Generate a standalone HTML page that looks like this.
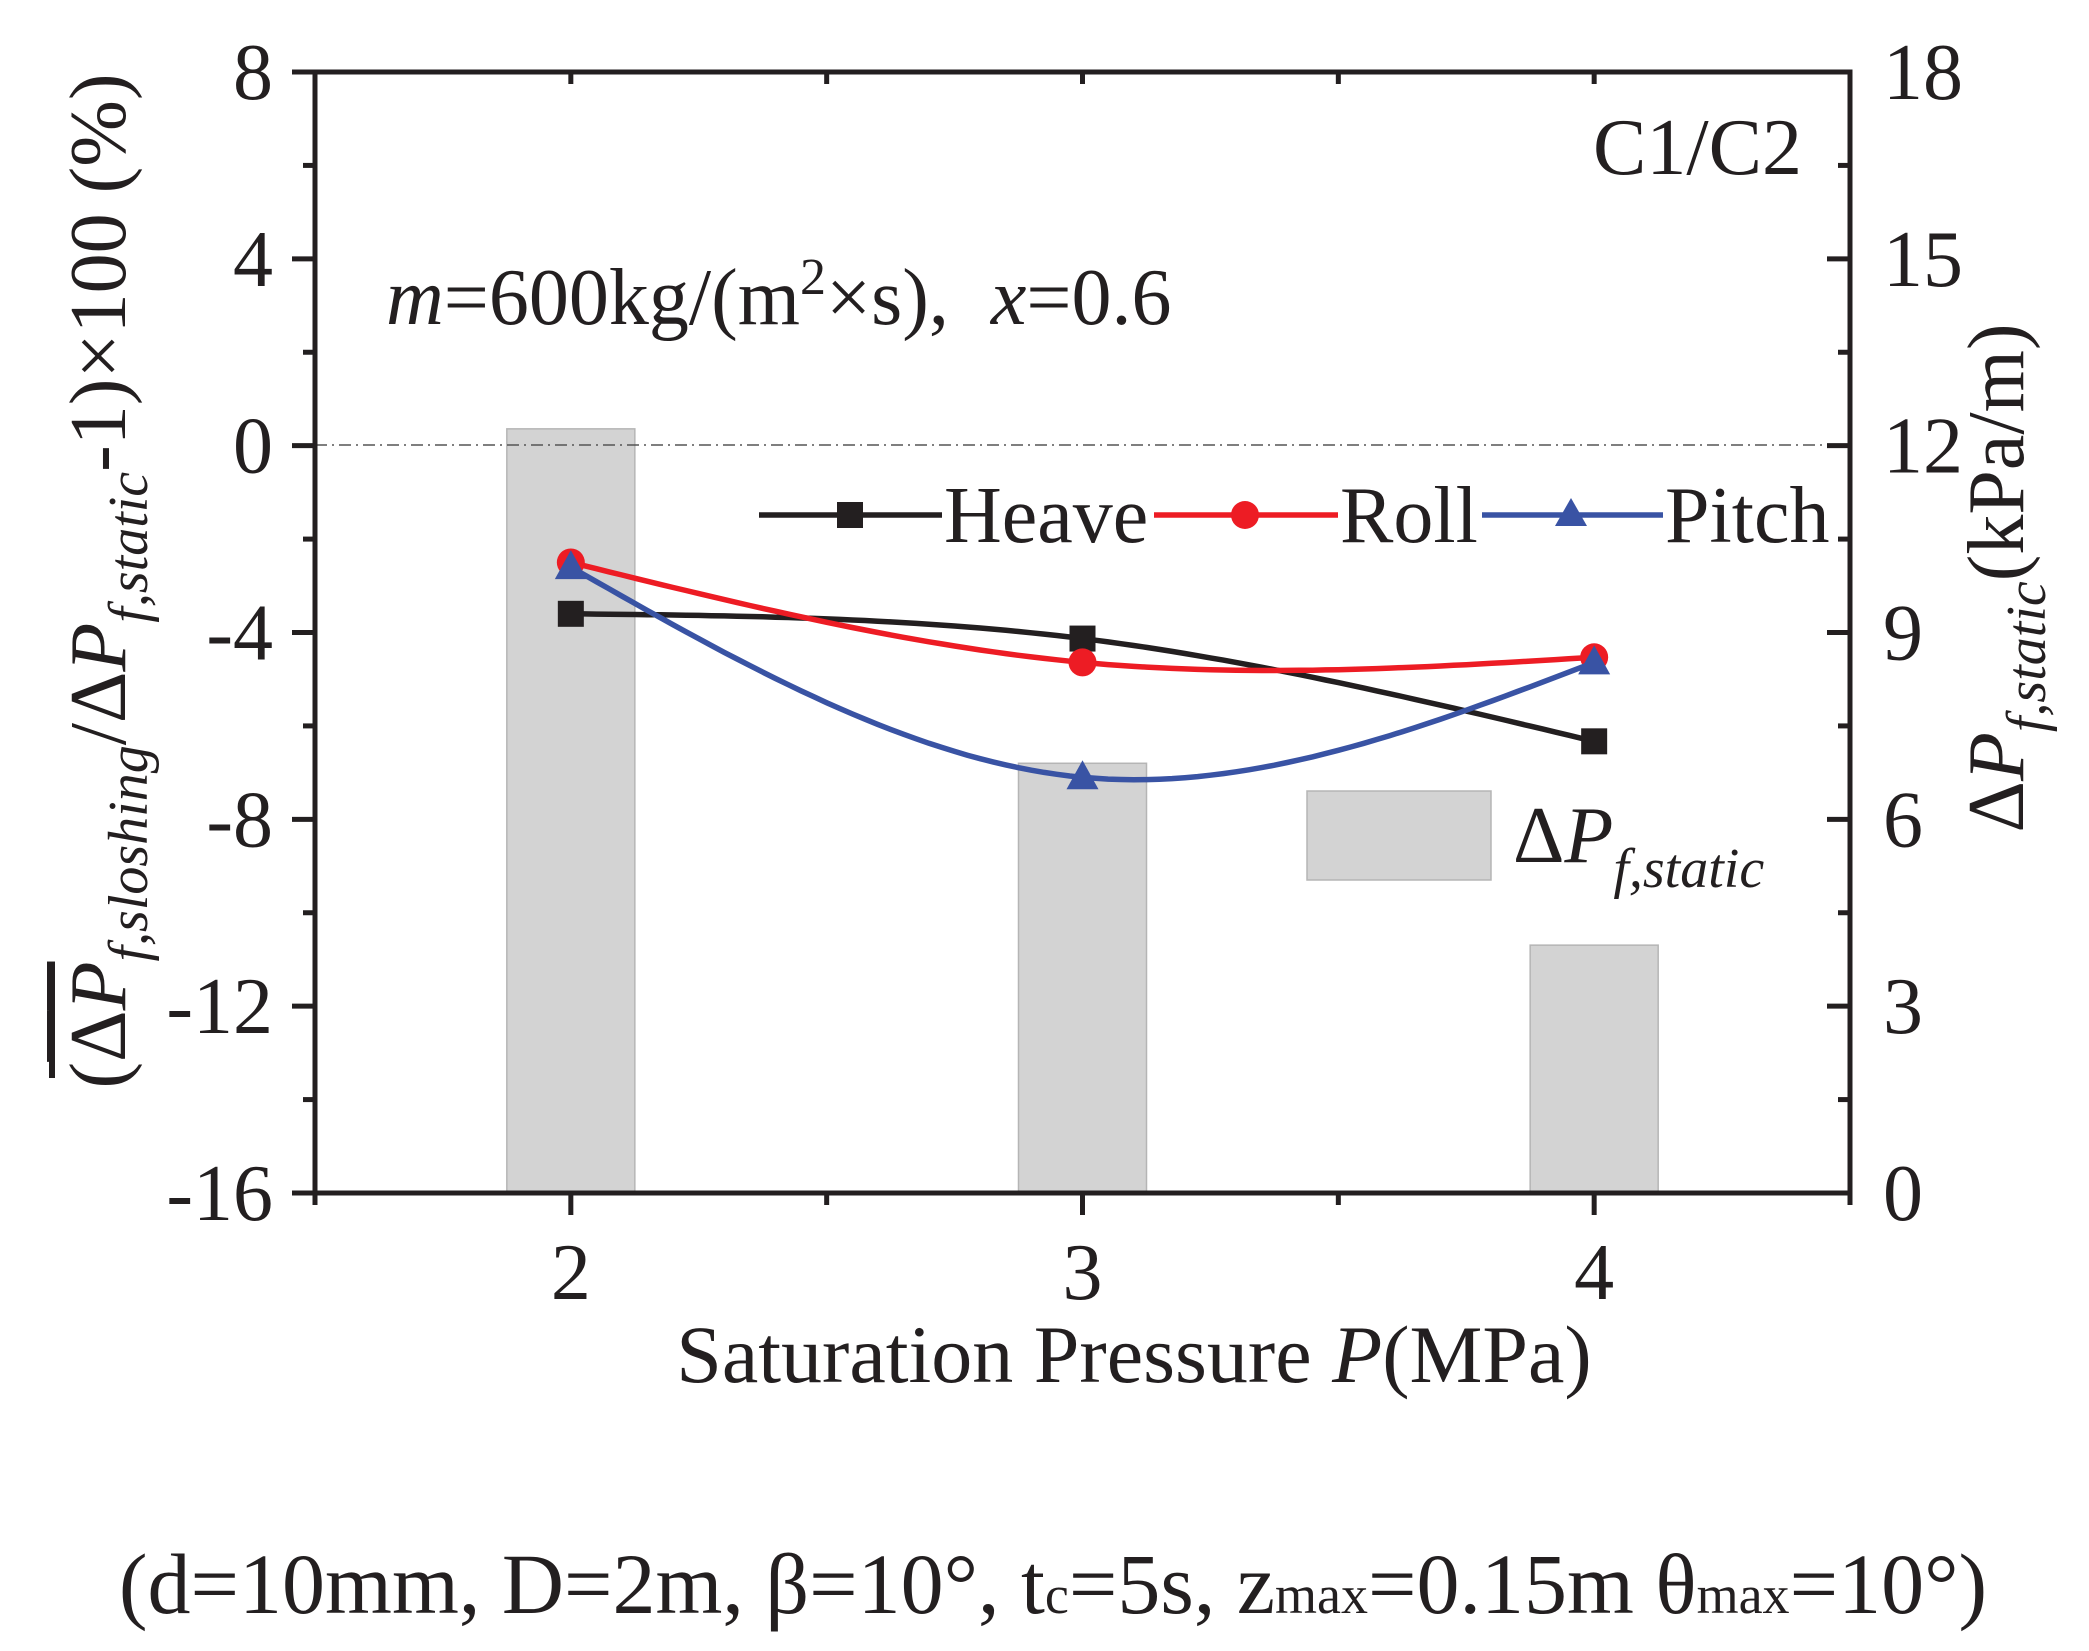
<!DOCTYPE html>
<html><head><meta charset="utf-8"><style>
html,body{margin:0;padding:0;background:#fff;}
svg{display:block;font-family:"Liberation Serif",serif;}
</style></head><body>
<svg id="chart" width="2089" height="1651" viewBox="0 0 2089 1651" xmlns="http://www.w3.org/2000/svg">
<g id="bars"></g>
<line x1="315" y1="445" x2="1850" y2="445" stroke="#555" stroke-width="1.5" stroke-dasharray="12,5,2,5"/>
<g id="series"></g>
<g id="axes"></g>
<text x="1802" y="174" font-size="80" text-anchor="end" fill="#231f20">C1/C2</text>
<text x="386" y="324" font-size="80" fill="#231f20"><tspan font-style="italic">m</tspan>=600kg/(m<tspan dy="-30" font-size="52">2</tspan><tspan dy="30">×s),</tspan><tspan font-style="italic" dx="42">x</tspan>=0.6</text>
<g>
<line x1="759" y1="515" x2="942" y2="515" stroke="#231f20" stroke-width="5.5"/>
<rect x="837" y="502" width="26" height="26" fill="#231f20"/>
<text x="944" y="542" font-size="80" fill="#231f20">Heave</text>
<line x1="1154" y1="515" x2="1338" y2="515" stroke="#ed1c24" stroke-width="5.5"/>
<circle cx="1245" cy="515" r="14" fill="#ed1c24"/>
<text x="1340" y="542" font-size="80" fill="#231f20">Roll</text>
<line x1="1482" y1="515" x2="1663" y2="515" stroke="#3953a4" stroke-width="5.5"/>
<polygon points="1571,498 1555,526 1587,526" fill="#3953a4"/>
<text x="1665" y="542" font-size="80" fill="#231f20">Pitch</text>
<rect x="1307" y="791" width="184" height="89" fill="#d3d3d3" stroke="#b5b5b5" stroke-width="1.5"/>
<text x="1513" y="862" font-size="80" fill="#231f20">Δ<tspan font-style="italic">P</tspan><tspan font-style="italic" font-size="56" dy="25">f,static</tspan></text>
</g>
<text x="1134" y="1382" font-size="82" text-anchor="middle" fill="#231f20">Saturation Pressure <tspan font-style="italic">P</tspan>(MPa)</text>
<text transform="translate(125,581) rotate(-90)" font-size="80" text-anchor="middle" fill="#231f20">(<tspan text-decoration="overline">Δ<tspan font-style="italic">P</tspan></tspan><tspan font-style="italic" font-size="56" dy="22">f,sloshing</tspan><tspan dy="-22">/Δ</tspan><tspan font-style="italic">P</tspan><tspan font-style="italic" font-size="56" dy="22">f,static</tspan><tspan dy="-22">-1)×100 (%)</tspan></text>
<line x1="52" y1="968" x2="52" y2="1078" stroke="#231f20" stroke-width="6"/>
<text transform="translate(2023,578) rotate(-90)" font-size="80" text-anchor="middle" fill="#231f20">Δ<tspan font-style="italic">P</tspan><tspan font-style="italic" font-size="56" dy="22">f,static</tspan><tspan dy="-22">(kPa/m)</tspan></text>
<text x="1053" y="1613" font-size="86" text-anchor="middle" fill="#231f20">(d=10mm, D=2m, β=10°, t<tspan font-size="54">c</tspan>=5s, z<tspan font-size="54">max</tspan>=0.15m θ<tspan font-size="54">max</tspan>=10°)</text>
</svg>
<script>
const categories = [2, 3, 4];
const heave = [-3.6, -4.13, -6.33];
const roll = [-2.5, -4.64, -4.53];
const pitch = [-2.6, -7.1, -4.64];
const staticDrop = [12.27, 6.9, 3.98];
const leftTicks = [8, 4, 0, -4, -8, -12, -16];
const rightTicks = [18, 15, 12, 9, 6, 3, 0];
const xTicks = [2, 3, 4];

const NS = 'http://www.w3.org/2000/svg';
const X0 = 315, X1 = 1850, Y0 = 72, Y1 = 1193;
const xs = v => X0 + (v - 1.5) / 3 * (X1 - X0);
const yl = v => Y1 - (v + 16) / 24 * (Y1 - Y0);
const yr = v => Y1 - v / 18 * (Y1 - Y0);
function mk(tag, attrs, parent) {
  const e = document.createElementNS(NS, tag);
  for (const k in attrs) e.setAttribute(k, attrs[k]);
  parent.appendChild(e);
  return e;
}
const barsG = document.getElementById('bars');
categories.forEach((c, i) => {
  const b = mk('rect', {x: xs(c) - 64, y: yr(staticDrop[i]), width: 128, height: Y1 - yr(staticDrop[i]), fill: '#d3d3d3', stroke: '#b5b5b5', 'stroke-width': 1.5}, barsG);
  
  
});
function spline(xv, yv) {
  const n = xv.length; const h = [], a = [], l = [1], mu = [0], z = [0], c = new Array(n).fill(0), b = [], d = [];
  for (let i = 0; i < n - 1; i++) h.push(xv[i + 1] - xv[i]);
  for (let i = 1; i < n - 1; i++) a[i] = 3 / h[i] * (yv[i + 1] - yv[i]) - 3 / h[i - 1] * (yv[i] - yv[i - 1]);
  for (let i = 1; i < n - 1; i++) { l[i] = 2 * (xv[i + 1] - xv[i - 1]) - h[i - 1] * mu[i - 1]; mu[i] = h[i] / l[i]; z[i] = (a[i] - h[i - 1] * z[i - 1]) / l[i]; }
  z[n - 1] = 0;
  for (let j = n - 2; j >= 0; j--) { c[j] = z[j] - mu[j] * c[j + 1]; b[j] = (yv[j + 1] - yv[j]) / h[j] - h[j] * (c[j + 1] + 2 * c[j]) / 3; d[j] = (c[j + 1] - c[j]) / (3 * h[j]); }
  const pts = [];
  for (let j = 0; j < n - 1; j++) for (let k = 0; k <= 40; k++) { const t = h[j] * k / 40; pts.push([xv[j] + t, yv[j] + b[j] * t + c[j] * t * t + d[j] * t * t * t]); }
  return pts;
}
const sg = document.getElementById('series');
function series(vals, color, name, marker) {
  const pts = spline(categories, vals);
  const p = mk('path', {d: 'M' + pts.map(q => xs(q[0]).toFixed(1) + ',' + yl(q[1]).toFixed(1)).join('L'), fill: 'none', stroke: color, 'stroke-width': 5.5}, sg);
  
  
  categories.forEach((c, i) => {
    const x = xs(c), y = yl(vals[i]); let m;
    if (marker === 'sq') m = mk('rect', {x: x - 13, y: y - 13, width: 26, height: 26, fill: color}, sg);
    else if (marker === 'ci') m = mk('circle', {cx: x, cy: y, r: 14, fill: color}, sg);
    else m = mk('polygon', {points: `${x},${y - 17} ${x - 16},${y + 12} ${x + 16},${y + 12}`, fill: color}, sg);
    
    
  });
}
series(heave, '#231f20', 'heave', 'sq');
series(roll, '#ed1c24', 'roll', 'ci');
series(pitch, '#3953a4', 'pitch', 'tri');

const ax = document.getElementById('axes');
const st = {stroke: '#231f20', 'stroke-width': 5};
function ln(x1, y1, x2, y2, name) {
  const e = mk('line', Object.assign({x1, y1, x2, y2}, st), ax);
  
  
}
ln(X0, Y0 - 2.5, X0, Y1 + 2.5, 'left-axis-line');
ln(X1, Y0 - 2.5, X1, Y1 + 2.5, 'right-axis-line');
ln(X0 - 2.5, Y0, X1 + 2.5, Y0, 'top-axis-line');
ln(X0 - 2.5, Y1, X1 + 2.5, Y1, 'bottom-axis-line');
function txt(x, y, s, anchor, name) {
  const t = mk('text', {x, y, 'font-size': 80, 'text-anchor': anchor, fill: '#231f20'}, ax);
  t.textContent = s;
  
  
}
leftTicks.forEach(v => {
  ln(X0 - 23, yl(v), X0, yl(v), 'left-tick');
  txt(273, yl(v) + 27, String(v), 'end', 'left-tick-label');
  if (v > -16) ln(X0 - 12, yl(v - 2), X0, yl(v - 2), 'left-minor-tick');
});
rightTicks.forEach(v => {
  ln(X1 - 23, yr(v), X1, yr(v), 'right-tick');
  txt(1883, yr(v) + 27, String(v), 'start', 'right-tick-label');
  if (v > 0) ln(X1 - 12, yr(v - 1.5), X1, yr(v - 1.5), 'right-minor-tick');
});
xTicks.forEach(v => {
  ln(xs(v), Y1, xs(v), Y1 + 22, 'x-tick');
  txt(xs(v), 1299, String(v), 'middle', 'x-tick-label');
  ln(xs(v), Y0, xs(v), Y0 + 12, 'top-tick');
});
[1.5, 2.5, 3.5, 4.5].forEach(v => {
  ln(xs(v), Y1, xs(v), Y1 + 12, 'x-minor-tick');
  ln(xs(v), Y0, xs(v), Y0 + 12, 'top-minor-tick');
});
</script>
</body></html>
